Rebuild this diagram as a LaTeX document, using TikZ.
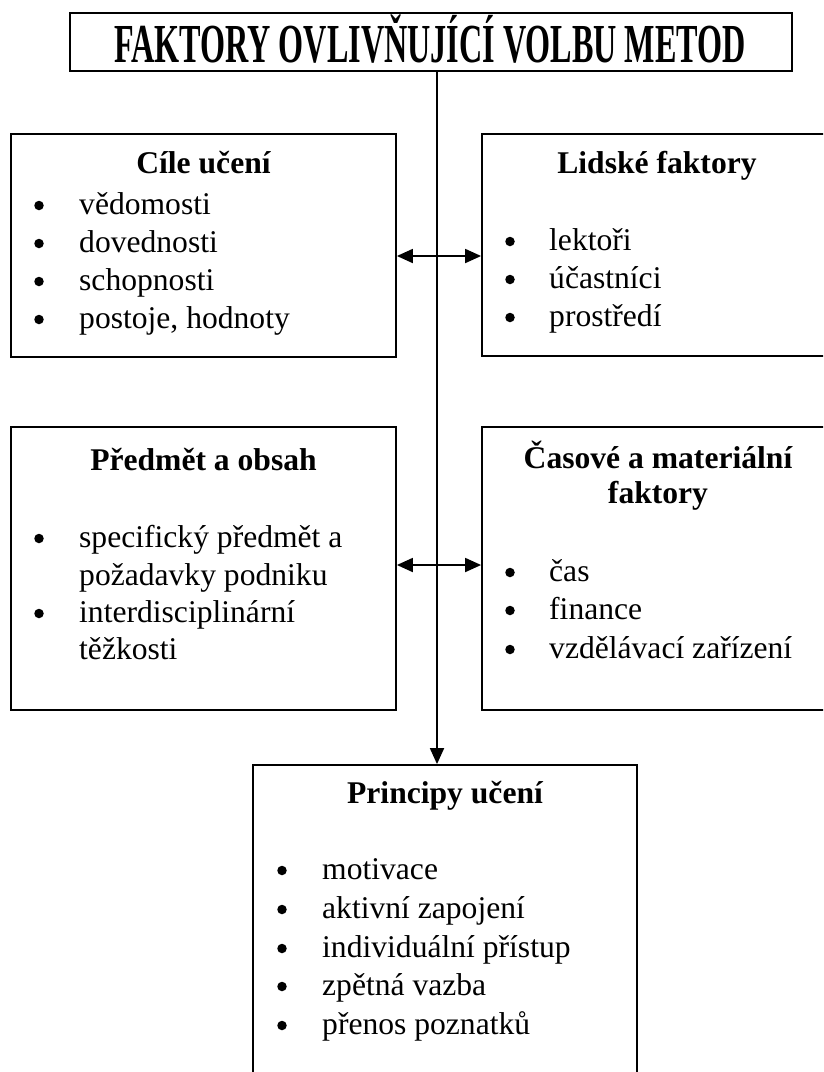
\documentclass[tikz,border=0pt]{standalone}
\usepackage{fontspec}
\setmainfont{Liberation Serif}
\usetikzlibrary{arrows.meta}
\begin{document}
\begin{tikzpicture}[x=1pt,y=-1pt,
  box/.style={draw=black, line width=1.8pt, fill=none, inner sep=0pt},
  hd/.style={inner sep=0pt, anchor=base, font=\fontsize{31.6}{38}\selectfont\bfseries},
  bul/.style={circle, fill=black, inner sep=0pt, minimum size=9.5pt, yshift=8.5pt},
  itm/.style={inner sep=0pt, anchor=base west, font=\fontsize{31.6}{38}\selectfont},
  conn/.style={line width=1.8pt},
  tip/.tip={Triangle[length=16pt,width=14pt]}
]
\useasboundingbox (0,0) rectangle (823,1072);
\begin{scope}
\clip (0,0) rectangle (823,1072);
% boxes
\node[box, minimum width=722pt, minimum height=58pt] (top) at (431,42) {};
\node[box, minimum width=385pt, minimum height=223pt] (cile) at (203.5,245.5) {};
\node[box, minimum width=350pt, minimum height=222pt] (lid) at (657,245) {};
\node[box, minimum width=385pt, minimum height=283pt] (pred) at (203.5,568.5) {};
\node[box, minimum width=350pt, minimum height=283pt] (cas) at (657,568.5) {};
\node[box, minimum width=384pt, minimum height=330pt] (princ) at (445,930) {};
\end{scope}
% title
\node[inner sep=0pt, anchor=base, font=\fontsize{55}{60}\selectfont\bfseries] (ttl) at (430,62) {\scalebox{0.585}[1]{FAKTORY OVLIVŇUJÍCÍ VOLBU METOD}};
% Cile uceni
\node[hd] (h1) at (203.5,173) {Cíle učení};
\node[bul] (b11) at (39,214) {}; \node[itm] (t11) at (79,214) {vědomosti};
\node[bul] (b12) at (39,252) {}; \node[itm] (t12) at (79,252) {dovednosti};
\node[bul] (b13) at (39,290) {}; \node[itm] (t13) at (79,290) {schopnosti};
\node[bul] (b14) at (39,328) {}; \node[itm] (t14) at (79,328) {postoje, hodnoty};
% Lidske faktory
\node[hd] (h2) at (657,173) {Lidské faktory};
\node[bul] (b21) at (510,250) {}; \node[itm] (t21) at (549,250) {lektoři};
\node[bul] (b22) at (510,288) {}; \node[itm] (t22) at (549,288) {účastníci};
\node[bul] (b23) at (510,326) {}; \node[itm] (t23) at (549,326) {prostředí};
% Predmet a obsah
\node[hd] (h3) at (203.5,470) {Předmět a obsah};
\node[bul] (b31) at (39,547) {}; \node[itm] (t31) at (79,547) {specifický předmět a};
\node[itm] (t32) at (79,585) {požadavky podniku};
\node[bul] (b33) at (39,622) {}; \node[itm] (t33) at (79,622) {interdisciplinární};
\node[itm] (t34) at (79,659) {těžkosti};
% Casove a materialni faktory
\node[hd] (h4a) at (658,468) {Časové a materiální};
\node[hd] (h4b) at (658,503) {faktory};
\node[bul] (b41) at (510,581) {}; \node[itm] (t41) at (549,581) {čas};
\node[bul] (b42) at (510,619) {}; \node[itm] (t42) at (549,619) {finance};
\node[bul] (b43) at (510,658) {}; \node[itm] (t43) at (549,658) {vzdělávací zařízení};
% Principy uceni
\node[hd] (h5) at (445,803) {Principy učení};
\node[bul] (b51) at (282,879) {}; \node[itm] (t51) at (322,879) {motivace};
\node[bul] (b52) at (282,918) {}; \node[itm] (t52) at (322,918) {aktivní zapojení};
\node[bul] (b53) at (282,957) {}; \node[itm] (t53) at (322,957) {individuální přístup};
\node[bul] (b54) at (282,995) {}; \node[itm] (t54) at (322,995) {zpětná vazba};
\node[bul] (b55) at (282,1034) {}; \node[itm] (t55) at (322,1034) {přenos poznatků};
% connectors
\coordinate (axis) at (437,0);
\coordinate (r1) at (0,256);
\coordinate (r2) at (0,565);
\draw[conn, -tip] (top.south -| axis) -- (princ.north -| axis);
\draw[conn, tip-tip] (cile.east |- r1) -- (lid.west |- r1);
\draw[conn, tip-tip] (pred.east |- r2) -- (cas.west |- r2);
\end{tikzpicture}
\end{document}
